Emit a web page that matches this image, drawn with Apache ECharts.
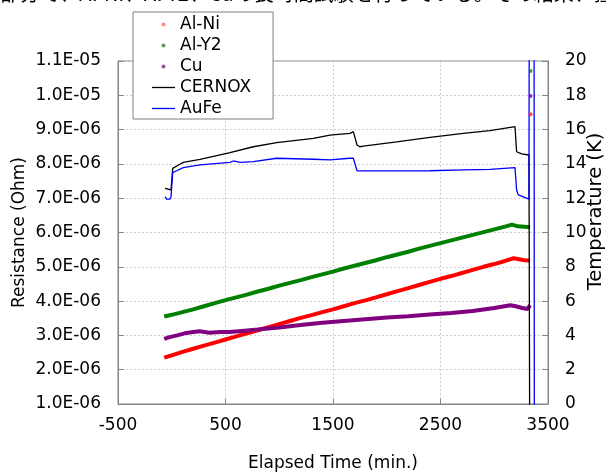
<!DOCTYPE html>
<html>
<head>
<meta charset="utf-8">
<script src="https://cdn.jsdelivr.net/npm/echarts@6/dist/echarts.min.js"></script>
<style>
html,body{margin:0;padding:0;background:#fff;}
#chart{width:606px;height:474px;}
</style>
</head>
<body>
<div id="chart"></div>
<script>
// ---- data (resistance in units of 1E-06 Ohm, temperature in K, time in min.) ----
const xTicks = [-500, 500, 1500, 2500, 3500];
const seriesNames = ['Al-Ni', 'Al-Y2', 'Cu', 'CERNOX', 'AuFe'];

const alNiTime = [-70, -40, 0, 100, 200, 300, 400, 500, 600, 700, 800, 900, 1000, 1100, 1200, 1300, 1400, 1500, 1600, 1700, 1800, 1900, 2000, 2100, 2200, 2300, 2400, 2500, 2600, 2700, 2800, 2900, 3000, 3100, 3180, 3230, 3280, 3333];
const alNiRes  = [2.35, 2.38, 2.42, 2.52, 2.61, 2.70, 2.79, 2.88, 2.97, 3.06, 3.15, 3.24, 3.33, 3.42, 3.51, 3.59, 3.68, 3.76, 3.85, 3.94, 4.02, 4.11, 4.20, 4.29, 4.38, 4.47, 4.56, 4.65, 4.73, 4.82, 4.91, 5.00, 5.08, 5.17, 5.25, 5.22, 5.19, 5.18];

const alY2Time = [-70, 0, 100, 200, 300, 400, 500, 600, 700, 800, 900, 1000, 1100, 1200, 1300, 1400, 1500, 1600, 1700, 1800, 1900, 2000, 2100, 2200, 2300, 2400, 2500, 2600, 2700, 2800, 2900, 3000, 3100, 3165, 3220, 3280, 3333];
const alY2Res  = [3.55, 3.60, 3.68, 3.76, 3.85, 3.94, 4.03, 4.11, 4.19, 4.28, 4.36, 4.45, 4.53, 4.61, 4.70, 4.78, 4.86, 4.95, 5.03, 5.11, 5.19, 5.28, 5.36, 5.44, 5.53, 5.61, 5.69, 5.77, 5.85, 5.93, 6.01, 6.09, 6.17, 6.23, 6.18, 6.17, 6.15];

const cuTime = [-70, -20, 50, 120, 200, 260, 350, 450, 540, 650, 800, 1000, 1200, 1400, 1600, 1800, 2000, 2200, 2400, 2600, 2800, 3000, 3150, 3200, 3260, 3310, 3333];
const cuRes  = [2.90, 2.95, 3.00, 3.06, 3.10, 3.12, 3.08, 3.10, 3.10, 3.13, 3.17, 3.23, 3.30, 3.37, 3.42, 3.47, 3.52, 3.56, 3.61, 3.65, 3.71, 3.80, 3.88, 3.85, 3.80, 3.77, 3.88];

// isolated readings near the end of the run (Al-Ni, Al-Y2, Cu)
const outlierTime = [3338, 3338, 3338];
const outlierRes  = [9.45, 10.71, 9.98];

const cernoxTime = [-63, -47, -7, 9, 46, 107, 263, 542, 759, 976, 1317, 1472, 1658, 1689, 1724, 1750, 1782, 2092, 2402, 2712, 2960, 3193, 3208, 3224, 3255, 3323, 3331];
const cernoxTemp = [12.58, 12.48, 12.48, 13.74, 13.88, 14.09, 14.27, 14.66, 15.00, 15.24, 15.49, 15.68, 15.78, 15.88, 15.10, 15.00, 15.04, 15.29, 15.55, 15.78, 15.94, 16.17, 14.71, 14.71, 14.58, 14.52, -5];

const aufeTime = [-63, -47, -16, -7, 9, 46, 107, 263, 542, 574, 636, 759, 976, 1317, 1472, 1658, 1689, 1724, 1782, 2092, 2402, 2712, 2960, 3193, 3208, 3224, 3323, 3329, 3369, 3373];
const aufeTemp = [12.09, 11.95, 11.95, 12.09, 13.49, 13.60, 13.78, 13.94, 14.09, 14.17, 14.09, 14.13, 14.33, 14.27, 14.23, 14.33, 14.33, 13.59, 13.59, 13.59, 13.60, 13.65, 13.68, 13.78, 12.48, 12.19, 11.95, 40, 40, -5];

// ---- build ----
const zip = (a, b) => a.map((v, i) => [v, b[i]]);
const FONT = 'DejaVu Sans';
const AXIS_GRAY = '#868686';
const LINE_ICON = 'path://M0,0H230V13H0Z';

function sci(v) {
  const s = (v * 1e-6).toExponential(1).split('e');
  const exp = parseInt(s[1], 10);
  const sign = exp < 0 ? '-' : '+';
  const abs = Math.abs(exp);
  return s[0] + 'E' + sign + (abs < 10 ? '0' + abs : '' + abs);
}

const chart = echarts.init(document.getElementById('chart'), null, {renderer: 'canvas'});
chart.setOption({
  animation: false,
  backgroundColor: '#ffffff',
  textStyle: {fontFamily: FONT},
  graphic: [{
    type: 'text', left: 0, top: -17, silent: true,
    style: {text: '部分で、Al-Ni、Al-Y2、Cuの長時間試験を行っている。その結果、抵抗値の上昇が観測された。', fontFamily: 'Noto Sans CJK JP', fontSize: 20, fill: '#000'}
  }],
  grid: {left: 118, right: 58, top: 61, bottom: 70, show: true, borderColor: AXIS_GRAY, borderWidth: 1, backgroundColor: '#fff', outerBoundsMode: 'none', containLabel: false},
  legend: {
    orient: 'vertical', left: 133, top: 12,
    backgroundColor: '#fff', borderColor: '#7f7f7f', borderWidth: 1,
    padding: [2, 22, 0, 19],
    itemGap: 0, itemWidth: 23, itemHeight: 4, itemTextGap: 3,
    textStyle: {fontFamily: FONT, fontSize: 17, color: '#000', lineHeight: 21},
    data: [
      {name: 'Al-Ni', icon: 'circle', itemStyle: {color: '#ff8c8c'}},
      {name: 'Al-Y2', icon: 'circle', itemStyle: {color: '#55a055'}},
      {name: 'Cu', icon: 'circle', itemStyle: {color: '#a050a0'}},
      {name: 'CERNOX', icon: LINE_ICON, itemStyle: {color: '#000000'}},
      {name: 'AuFe', icon: LINE_ICON, itemStyle: {color: '#0000ff'}}
    ],
    z: 10
  },
  xAxis: {
    type: 'value', min: xTicks[0], max: xTicks[xTicks.length - 1], interval: 1000,
    name: 'Elapsed Time (min.)', nameLocation: 'middle', nameGap: 51, nameMoveOverlap: false,
    nameTextStyle: {fontFamily: FONT, fontSize: 17, color: '#000'},
    axisLine: {onZero: false, lineStyle: {color: AXIS_GRAY}},
    axisTick: {inside: true, length: 5, lineStyle: {color: AXIS_GRAY}},
    axisLabel: {margin: 13, fontFamily: FONT, fontSize: 17, color: '#000', formatter: v => String(v)},
    splitLine: {show: true, lineStyle: {color: '#cfcfcf', type: [2, 2]}}
  },
  yAxis: [{
    type: 'value', min: 1, max: 11, interval: 1, position: 'left',
    name: 'Resistance (Ohm)', nameLocation: 'middle', nameGap: 90, nameMoveOverlap: false,
    nameTextStyle: {fontFamily: FONT, fontSize: 17, color: '#000'},
    axisLine: {show: true, onZero: false, lineStyle: {color: AXIS_GRAY}},
    axisTick: {show: true, inside: true, length: 6, lineStyle: {color: AXIS_GRAY}},
    axisLabel: {margin: 17, fontFamily: FONT, fontSize: 17, color: '#000', formatter: sci},
    splitLine: {show: true, lineStyle: {color: '#cfcfcf', type: [2, 2]}}
  }, {
    type: 'value', min: 0, max: 20, interval: 2, position: 'right',
    name: 'Temperature (K)', nameLocation: 'middle', nameGap: 38, nameMoveOverlap: false,
    nameTextStyle: {fontFamily: FONT, fontSize: 19.5, color: '#000', padding: [0, 0, 0, 42]},
    axisLine: {show: true, onZero: false, lineStyle: {color: AXIS_GRAY}},
    axisTick: {show: true, inside: true, length: 6, lineStyle: {color: AXIS_GRAY}},
    axisLabel: {margin: 17, fontFamily: FONT, fontSize: 17, color: '#000'},
    splitLine: {show: false}
  }],
  series: [
    {name: 'Al-Ni', type: 'line', yAxisIndex: 0, symbol: 'none', data: zip(alNiTime, alNiRes),
     lineStyle: {color: '#ff0000', width: 4}, itemStyle: {color: '#ff0000'}, z: 2},
    {name: 'Al-Y2', type: 'line', yAxisIndex: 0, symbol: 'none', data: zip(alY2Time, alY2Res),
     lineStyle: {color: '#008000', width: 4}, itemStyle: {color: '#008000'}, z: 2},
    {name: 'Cu', type: 'line', yAxisIndex: 0, symbol: 'none', data: zip(cuTime, cuRes),
     lineStyle: {color: '#800080', width: 4}, itemStyle: {color: '#800080'}, z: 2},
    {name: 'Al-Ni', type: 'scatter', yAxisIndex: 0, symbolSize: 4, data: [[outlierTime[0], outlierRes[0]]], itemStyle: {color: '#ff2020'}, z: 4},
    {name: 'Al-Y2', type: 'scatter', yAxisIndex: 0, symbolSize: 4, data: [[outlierTime[1], outlierRes[1]]], itemStyle: {color: '#108030'}, z: 4},
    {name: 'Cu', type: 'scatter', yAxisIndex: 0, symbolSize: 4, data: [[outlierTime[2], outlierRes[2]]], itemStyle: {color: '#8000a0'}, z: 4},
    {name: 'CERNOX', type: 'line', yAxisIndex: 1, symbol: 'none', data: zip(cernoxTime, cernoxTemp),
     lineStyle: {color: '#000000', width: 1.3}, itemStyle: {color: '#000000'}, z: 3},
    {name: 'AuFe', type: 'line', yAxisIndex: 1, symbol: 'none', data: zip(aufeTime, aufeTemp),
     lineStyle: {color: '#0000ff', width: 1.3}, itemStyle: {color: '#0000ff'}, z: 3}
  ]
});
</script>
</body>
</html>
